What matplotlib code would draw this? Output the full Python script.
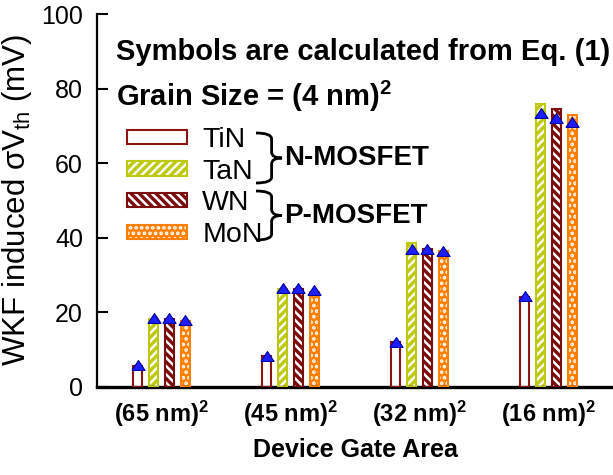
import matplotlib
matplotlib.use('Agg')
import matplotlib.pyplot as plt
import numpy as np
from matplotlib.patches import Patch, PathPatch
from matplotlib.path import Path

plt.rcParams['font.family'] = ['Liberation Sans', 'DejaVu Sans']
plt.rcParams['mathtext.default'] = 'regular'
plt.rcParams['hatch.linewidth'] = 1.8

# data
areas = ['(65 nm)$^2$', '(45 nm)$^2$', '(32 nm)$^2$', '(16 nm)$^2$']
materials = ['TiN', 'TaN', 'WN', 'MoN']
tin_bar = [5.5, 8.2, 12.0, 24.0]
tan_bar = [18.2, 26.2, 38.5, 75.8]
wn_bar = [18.2, 26.2, 37.0, 74.5]
mon_bar = [17.6, 25.4, 36.5, 72.9]
# symbols: calculated from Eq. (1)
tin_sym = [5.9, 8.3, 12.0, 24.3]
tan_sym = [18.4, 26.4, 37.0, 73.5]
wn_sym = [18.3, 26.4, 37.0, 72.2]
mon_sym = [17.8, 25.9, 36.3, 71.1]

bars = [tin_bar, tan_bar, wn_bar, mon_bar]
syms = [tin_sym, tan_sym, wn_sym, mon_sym]

# fill colour, hatch, hatch colour, outline colour
styles = [('white', None, 'white', '#8E1414'),
          ('#BEC80E', '////', 'white', '#BEC80E'),
          ('#7A0C0C', '\\\\\\\\', 'white', '#7A0C0C'),
          ('#FF8000', '...', 'white', '#FF8000')]

W, H = 613, 475
fig = plt.figure(figsize=(W / 100, H / 100), dpi=100)
ax = fig.add_axes([97 / W, (H - 386.7) / H, (W - 97) / W, (386.7 - 14) / H])

tri = [(-1, -0.75), (1, -0.75), (0, 0.75), (-1, -0.75)]

x = np.arange(len(areas))
off = 0.124
w = 0.074
handles = []
for i in range(4):
    face, hatch, hcol, edge = styles[i]
    xi = x + (i - 1.5) * off
    ax.bar(xi, bars[i], w, color=face, edgecolor=hcol, hatch=hatch, linewidth=0, zorder=2)
    ax.bar(xi, bars[i], w, fill=False, edgecolor=edge, linewidth=1.5, zorder=3)
    ax.plot(xi, syms[i], linestyle='none', marker=tri, ms=9.5,
            mfc='#1E1EFF', mec='#0000A0', mew=0.8, zorder=4)
    p1 = Patch(facecolor=face, edgecolor=hcol, hatch=hatch, linewidth=0)
    p2 = Patch(fill=False, edgecolor=edge, linewidth=1.5)
    handles.append((p1, p2))

ax.set_xlim(-0.5, 3.5)
ax.set_ylim(0, 100)
ax.set_yticks([0, 20, 40, 60, 80, 100])
ax.set_xticks(x)
ax.set_xticklabels(areas, fontweight='bold')
ax.tick_params(axis='y', direction='in', length=8, width=1.5, labelsize=18, pad=10)
ax.tick_params(axis='x', length=0, labelsize=17, pad=9)
ax.spines['top'].set_visible(False)
ax.spines['right'].set_visible(False)
ax.spines['left'].set_linewidth(1.6)
ax.spines['bottom'].set_linewidth(2.4)

ax.set_ylabel('WKF induced σV$_{th}$ (mV)', fontsize=22.5, labelpad=5)
ax.set_xlabel('Device Gate Area', fontsize=18, fontweight='bold', labelpad=6)

fig.text(116 / W, 1 - 52 / H, 'Symbols are calculated from Eq. (1)',
         fontsize=21, fontweight='bold', va='center')
fig.text(116 / W, 1 - 96 / H, 'Grain Size = (4 nm)$^2$',
         fontsize=21, fontweight='bold', va='center')

ax.legend(handles, materials, loc='upper left',
          bbox_to_anchor=(127 / W, 1 - 127 / H), bbox_transform=fig.transFigure,
          frameon=False, fontsize=20.5, handlelength=2.1, handleheight=0.4,
          handletextpad=0.54, labelspacing=0.2, borderpad=0, borderaxespad=0)


def brace(x0, x1, yt, yb):
    # curly brace opening to the left, tip pointing right (pixel coords, y down)
    xm = x0 + 0.6 * (x1 - x0)
    ym = (yt + yb) / 2
    r = 6
    pts = [(x0, yt), (xm, yt), (xm, yt + r), (xm, ym - r), (xm, ym), (x1, ym),
           (xm, ym), (xm, ym + r), (xm, yb - r), (xm, yb), (x0, yb)]
    codes = [Path.MOVETO, Path.CURVE3, Path.CURVE3, Path.LINETO, Path.CURVE3, Path.CURVE3,
             Path.CURVE3, Path.CURVE3, Path.LINETO, Path.CURVE3, Path.CURVE3]
    pts = [(px / 100, (H - py) / 100) for px, py in pts]
    fig.add_artist(PathPatch(Path(pts, codes), fill=False, lw=2.0,
                             edgecolor='black', transform=fig.dpi_scale_trans))


brace(256, 282, 133, 183)
brace(256, 282, 191, 240)
fig.text(284 / W, 1 - 158 / H, 'N-MOSFET', fontsize=20, fontweight='bold', va='center')
fig.text(284 / W, 1 - 216 / H, 'P-MOSFET', fontsize=20, fontweight='bold', va='center')

fig.savefig('out.png', dpi=100)
